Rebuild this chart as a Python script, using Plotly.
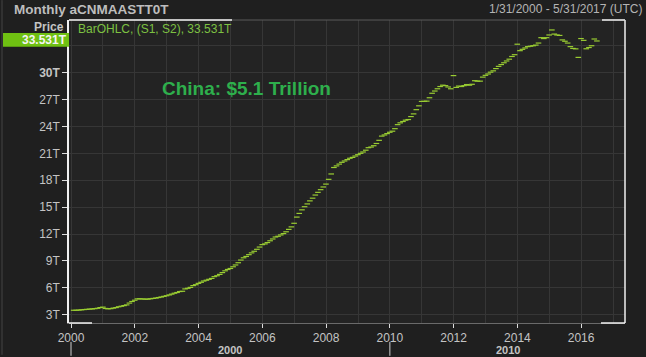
import pandas as pd
import plotly.graph_objects as go

# Monthly values (trillions), Jan..Dec per year
v2000 = [3.50, 3.50, 3.52, 3.55, 3.58, 3.60, 3.63, 3.65, 3.68, 3.72, 3.80, 3.85]
v2001 = [3.70, 3.66, 3.68, 3.74, 3.80, 3.89, 3.95, 4.02, 4.10, 4.30, 4.48, 4.62]
v2002 = [4.77, 4.78, 4.76, 4.74, 4.74, 4.78, 4.82, 4.86, 4.92, 4.98, 5.05, 5.12]
v2003 = [5.21, 5.30, 5.40, 5.48, 5.59, 5.62, 5.88, 5.95, 6.05, 6.25, 6.35, 6.50]
v2004 = [6.62, 6.76, 6.85, 6.95, 7.05, 7.25, 7.35, 7.50, 7.70, 7.90, 8.05, 8.16]
v2005 = [8.35, 8.55, 8.80, 9.10, 9.35, 9.50, 9.70, 9.90, 10.08, 10.30, 10.55, 10.82]
v2006 = [10.90, 11.05, 11.25, 11.45, 11.67, 11.75, 11.90, 12.05, 12.25, 12.52, 12.80, 13.20]
v2007 = [13.89, 14.30, 14.70, 15.05, 15.36, 15.70, 16.00, 16.35, 16.65, 16.95, 17.25, 17.57]
v2008 = [18.10, 18.70, 19.42, 19.60, 19.80, 20.00, 20.15, 20.30, 20.45, 20.55, 20.70, 20.85]
v2009 = [21.00, 21.15, 21.35, 21.63, 21.70, 21.85, 22.10, 22.45, 22.92, 23.05, 23.20, 23.35]
v2010 = [23.47, 23.75, 24.20, 24.40, 24.55, 24.70, 24.77, 25.10, 25.40, 25.87, 26.30, 26.79]
v2011 = [26.80, 26.82, 27.20, 27.70, 27.95, 28.20, 28.45, 28.60, 28.55, 28.40, 28.20, 29.67]
v2012 = [28.35, 28.50, 28.45, 28.55, 28.67, 28.60, 28.70, 29.10, 29.05, 29.05, 29.50, 29.70]
v2013 = [29.85, 30.05, 30.20, 30.45, 30.70, 30.90, 31.10, 31.30, 31.50, 31.80, 32.00, 33.17]
v2014 = [32.45, 32.60, 32.75, 32.90, 32.95, 33.00, 33.07, 33.30, 33.90, 33.80, 33.90, 34.20]
v2015 = [34.76, 34.30, 34.20, 34.15, 33.65, 33.50, 33.30, 32.90, 32.70, 32.65, 31.70, 33.80]
v2016 = [33.60, 32.66, 32.80, 33.00, 33.75, 33.531]

values = (v2000 + v2001 + v2002 + v2003 + v2004 + v2005 + v2006 + v2007 + v2008 +
          v2009 + v2010 + v2011 + v2012 + v2013 + v2014 + v2015 + v2016)
dates = pd.date_range("2000-01-31", periods=len(values), freq="ME")

y_tickvals = [3, 6, 9, 12, 15, 18, 21, 24, 27, 30, 33]
y_ticktext = ["3T", "6T", "9T", "12T", "15T", "18T", "21T", "24T", "27T", "<b>30T</b>", ""]

BG = "#1f1f1f"
PLOT_BG = "#232323"
GRID = "#363636"
TXT = "#c4c4c4"
FONT = "Liberation Sans, Arial, sans-serif"

fig = go.Figure()
fig.add_trace(go.Scatter(
    x=dates, y=values, mode="markers",
    marker=dict(symbol="line-ew", size=4, color="#9acd32",
                line=dict(color="#9acd32", width=1.2)),
    showlegend=False, hoverinfo="x+y",
))

fig.update_layout(
    width=646, height=357,
    margin=dict(l=69, r=21, t=20, b=32),
    paper_bgcolor=BG, plot_bgcolor=PLOT_BG,
    font=dict(family=FONT, size=12, color=TXT),
    showlegend=False,
)

fig.update_xaxes(
    type="date",
    range=["1999-12-09", "2017-05-18"],
    tick0="2000-01-01", dtick="M24", tickformat="%Y",
    ticks="outside", ticklen=4, tickcolor="#dddddd", tickwidth=1,
    tickfont=dict(size=12, color=TXT),
    showgrid=True, gridcolor=GRID, gridwidth=1,
    minor=dict(dtick="M12", tick0="2000-01-01", showgrid=True, gridcolor=GRID, ticks=""),
    showline=True, linecolor="#6a6a6a", linewidth=1,
    zeroline=False, fixedrange=True,
)
fig.update_yaxes(
    range=[2.08, 35.87],
    tickvals=y_tickvals, ticktext=y_ticktext,
    ticks="outside", ticklen=5, tickcolor="#dddddd", tickwidth=1,
    tickfont=dict(size=12, color=TXT),
    showgrid=True, gridcolor=GRID, gridwidth=1,
    showline=True, linecolor="#f0f0f0", linewidth=1.5,
    zeroline=False, fixedrange=True,
)

def px_x(px):
    return (px - 69) / 556.0

def px_y(py):
    return (325 - py) / 305.0

shapes = [
    dict(type="line", xref="paper", yref="paper", x0=1, x1=1, y0=0, y1=1,
         line=dict(color="#f0f0f0", width=1.5)),
    dict(type="line", xref="paper", yref="paper", x0=0, x1=1, y0=1, y1=1,
         line=dict(color="#5a5a5a", width=1)),
    dict(type="line", xref="paper", yref="paper", x0=0, x1=px_x(232), y0=1, y1=1,
         line=dict(color="#f0f0f0", width=1.5)),
    dict(type="line", xref="paper", yref="paper", x0=px_x(602), x1=1, y0=1, y1=1,
         line=dict(color="#f0f0f0", width=1.5)),
    dict(type="line", xref="paper", yref="paper", x0=0, x1=px_x(92), y0=0, y1=0,
         line=dict(color="#f0f0f0", width=1.5)),
    dict(type="line", xref="paper", yref="paper", x0=px_x(601), x1=1, y0=0, y1=0,
         line=dict(color="#f0f0f0", width=1.5)),
    dict(type="rect", xref="paper", yref="paper", x0=px_x(3), x1=px_x(69),
         y0=px_y(47), y1=px_y(33), fillcolor="#6fc012", line=dict(width=0), layer="above"),
    dict(type="line", xref="x", yref="paper", x0="2000-01-01", x1="2000-01-01",
         y0=px_y(344), y1=px_y(358), line=dict(color="#cfcfcf", width=1)),
    dict(type="line", xref="x", yref="paper", x0="2010-01-01", x1="2010-01-01",
         y0=px_y(344), y1=px_y(358), line=dict(color="#cfcfcf", width=1)),
    dict(type="line", xref="paper", yref="paper", x0=px_x(2), x1=px_x(2),
         y0=px_y(0), y1=px_y(357), line=dict(color="#454545", width=1)),
]
fig.update_layout(shapes=shapes)

annotations = [
    dict(text="<b>Monthly aCNMAASTT0T</b>", xref="paper", yref="paper",
         x=px_x(12), y=px_y(9), xanchor="left", yanchor="middle", showarrow=False,
         font=dict(size=13.5, color="#bdbdbd", family=FONT)),
    dict(text="1/31/2000 - 5/31/2017 (UTC)", xref="paper", yref="paper",
         x=px_x(644), y=px_y(9), xanchor="right", yanchor="middle", showarrow=False,
         font=dict(size=12, color="#b4b4b4", family=FONT)),
    dict(text="<b>Price</b>", xref="paper", yref="paper",
         x=px_x(66), y=px_y(27), xanchor="right", yanchor="middle", showarrow=False,
         font=dict(size=12, color="#c4c4c4", family=FONT)),
    dict(text="<b>33.531T</b>", xref="paper", yref="paper",
         x=px_x(69), y=px_y(40), xanchor="right", yanchor="middle", showarrow=False,
         font=dict(size=12, color="#f4f4f4", family=FONT)),
    dict(text="BarOHLC, (S1, S2), 33.531T", xref="paper", yref="paper",
         x=px_x(76), y=px_y(29), xanchor="left", yanchor="middle", showarrow=False,
         font=dict(size=12, color="#7dc142", family=FONT)),
    dict(text="<b>China: $5.1 Trillion</b>", xref="paper", yref="paper",
         x=px_x(246), y=px_y(89), xanchor="center", yanchor="middle", showarrow=False,
         font=dict(size=19, color="#2eaf4c", family=FONT)),
    dict(text="<b>2000</b>", xref="x", yref="paper", borderpad=0,
         x="2005-01-01", y=px_y(352), xanchor="center", yanchor="middle", showarrow=False,
         font=dict(size=11, color="#c4c4c4", family=FONT)),
    dict(text="<b>2010</b>", xref="x", yref="paper", borderpad=0,
         x="2013-09-15", y=px_y(352), xanchor="center", yanchor="middle", showarrow=False,
         font=dict(size=11, color="#c4c4c4", family=FONT)),
]
fig.update_layout(annotations=annotations)

fig.write_html(
    "out.html",
    config={"displayModeBar": False},
    post_script="document.body.style.margin='0';document.body.style.overflow='hidden';",
)
